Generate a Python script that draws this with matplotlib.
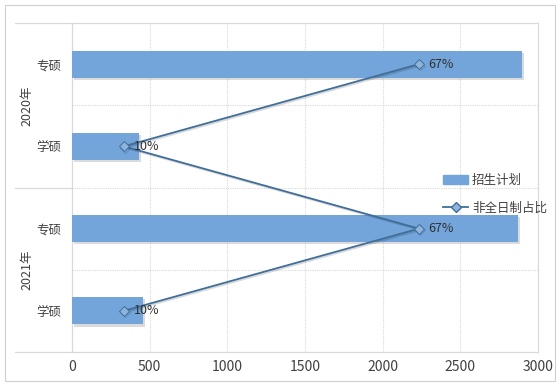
import matplotlib
matplotlib.use("Agg")
import matplotlib.pyplot as plt
import matplotlib.patheffects as pe
from matplotlib.lines import Line2D
from matplotlib.patches import Rectangle

plt.rcParams['font.family'] = ['Noto Sans CJK SC', 'DejaVu Sans']

years = ['2020年', '2021年']
categories = ['专硕', '学硕', '专硕', '学硕']
enroll = [2895, 434, 2873, 456]
ratio = [0.67, 0.10, 0.67, 0.10]
ratio_labels = ['67%', '10%', '67%', '10%']
xticks = [0, 500, 1000, 1500, 2000, 2500, 3000]

bar_color = '#74A5DA'
line_color = '#3F6E9A'
grid_color = '#D9D9D9'

fig = plt.figure(figsize=(5.59, 3.86), dpi=100)
fig.patches.append(Rectangle((5/559, 1-381/386), 550/559, 376/386, transform=fig.transFigure,
                             fill=False, edgecolor='#D0D0D0', linewidth=0.8, zorder=0))
ax = fig.add_axes([72/559, 1-352/386, 466/559, 329/386])
ypos = list(range(len(categories)))
bars = ax.barh(ypos, enroll, height=0.33, color=bar_color, zorder=3,
               path_effects=[pe.SimplePatchShadow(offset=(1.5, -1.5), shadow_rgbFace='#999999', alpha=0.35), pe.Normal()])
ax.set_xlim(0, 3000)
ax.set_ylim(3.5, -0.5)
ax.set_xticks(xticks)
ax.set_xticklabels([str(v) for v in xticks], fontsize=10, color='#404040')
ax.set_yticks(ypos)
ax.set_yticklabels(categories, fontsize=9, color='#404040')
ax.tick_params(axis='both', length=0, pad=8)
ax.tick_params(axis='x', pad=6)
for s in ['top', 'right', 'bottom', 'left']:
    ax.spines[s].set_color(grid_color)
    ax.spines[s].set_linewidth(0.9)
for v in xticks[1:-1]:
    ax.axvline(v, color=grid_color, linestyle=(0, (1, 1)), linewidth=0.8, zorder=1)
for b in [0.5, 1.5, 2.5]:
    ax.axhline(b, color=grid_color, linestyle=(0, (1, 1)), linewidth=0.8, zorder=1)

# group separators on the multi-level axis
x0 = (15 - 72) / 466
for b in [-0.5, 1.5, 3.5]:
    ax.add_line(Line2D([x0, 0], [b, b], transform=ax.get_yaxis_transform(),
                       color=grid_color, linewidth=0.9, clip_on=False))
for i, yr in enumerate(years):
    ax.text((27 - 72) / 466, 2 * i + 0.5, yr, transform=ax.get_yaxis_transform(),
            rotation=90, ha='center', va='center', fontsize=9, color='#404040')

ax2 = ax.twiny()
ax2.set_xlim(0, 0.9)
ax2.set_xticks([])
for s in ax2.spines.values():
    s.set_visible(False)
ln, = ax2.plot(ratio, ypos, color=line_color, linewidth=1.3, marker='D', markersize=5,
               markerfacecolor='#8FB4DC', markeredgecolor=line_color, markeredgewidth=0.7, zorder=5,
               path_effects=[pe.SimpleLineShadow(offset=(1, -1), alpha=0.15), pe.Normal()])
for x, y, t in zip(ratio, ypos, ratio_labels):
    ax2.annotate(t, (x, y), xytext=(7, 0), textcoords='offset points', ha='left', va='center',
                 fontsize=9, color='#303030', zorder=6)

handles = [Rectangle((0, 0), 1, 1, color=bar_color),
           Line2D([], [], color=line_color, linewidth=1.3, marker='D', markersize=5,
                  markerfacecolor='#8FB4DC', markeredgecolor=line_color)]
fig.legend(handles, ['招生计划', '非全日制占比'], loc='center left', bbox_to_anchor=(432/559, 1-194/386),
           frameon=False, fontsize=9, labelcolor='#404040', handlelength=2.0, handletextpad=0.3,
           labelspacing=1.2)

fig.savefig('out.png', dpi=100)
